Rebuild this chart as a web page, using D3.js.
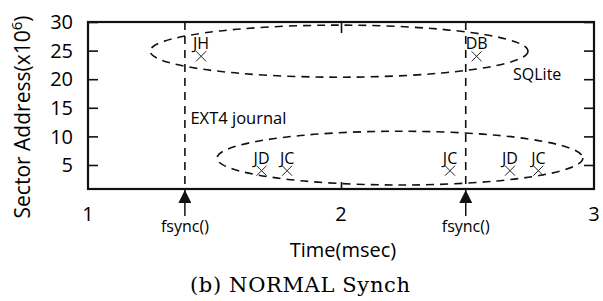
<!DOCTYPE html>
<html>
<head>
<meta charset="utf-8">
<script src="https://cdn.jsdelivr.net/npm/d3@7"></script>
<style>
  body { margin: 0; background: #fff; }
  text { font-family: "Open Sans", "Lato", sans-serif; fill: #000; }
</style>
</head>
<body>
<svg width="603" height="301"></svg>
<script>
// data
var xTicks = [1, 2, 3];
var yTicks = [5, 10, 15, 20, 25, 30];
var ioLabels = ["JH", "DB", "JD", "JC", "JC", "JD", "JC"];
var ioTime = [1.447, 2.536, 1.686, 1.787, 2.431, 2.668, 2.78];
var ioSector = [24, 24, 4, 4, 4, 4, 4];
var fsyncTime = [1.383, 2.493];
// groups: name, centre time, centre sector, half width (time), half height (sector)
var groupNames = ["SQLite", "EXT4 journal"];
var groupCx = [1.992, 2.233];
var groupCy = [24.9, 6.2];
var groupRx = [0.747, 0.723];
var groupRy = [4.55, 4.7];

var svg = d3.select("svg");
var margin = {left: 88, right: 9, top: 22, bottom: 112};
var W = 603, H = 301;

var x = d3.scaleLinear().domain([1, 3]).range([margin.left, W - margin.right]);
var y = d3.scaleLinear().domain([0.8, 30]).range([H - margin.bottom, margin.top]);

// ellipses
svg.append("g").selectAll("ellipse")
  .data(groupNames)
  .enter()
  .append("ellipse")
  .attr("cx", (d, i) => x(groupCx[i]))
  .attr("cy", (d, i) => y(groupCy[i]))
  .attr("rx", (d, i) => x(groupCx[i] + groupRx[i]) - x(groupCx[i]))
  .attr("ry", (d, i) => y(groupCy[i] - groupRy[i]) - y(groupCy[i]))
  .attr("fill", "none")
  .attr("stroke", "#111")
  .attr("stroke-width", 1.6)
  .attr("stroke-dasharray", "8,6");

// fsync dashed lines
svg.append("g").selectAll("line")
  .data(fsyncTime)
  .enter()
  .append("line")
  .attr("x1", d => x(d)).attr("x2", d => x(d))
  .attr("y1", y(30)).attr("y2", y(0.8))
  .attr("stroke", "#111")
  .attr("stroke-width", 1.6)
  .attr("stroke-dasharray", "8,6");

// axes: ticks inside, mirrored
svg.append("g").attr("transform", `translate(${margin.left},0)`)
  .call(d3.axisRight(y).tickValues(yTicks).tickSize(10).tickFormat(""));
svg.append("g").attr("transform", `translate(${W - margin.right},0)`)
  .call(d3.axisLeft(y).tickValues(yTicks).tickSize(10).tickFormat(""));
svg.append("g").attr("transform", `translate(0,${y(0.8)})`)
  .call(d3.axisTop(x).tickValues([2]).tickSize(7).tickFormat(""));
svg.append("g").attr("transform", `translate(0,${y(30)})`)
  .call(d3.axisBottom(x).tickValues([2]).tickSize(11).tickFormat(""));
svg.selectAll(".domain").remove();
svg.selectAll(".tick line").attr("stroke", "#111").attr("stroke-width", 1.6);

// tick labels
svg.append("g").selectAll("text")
  .data(yTicks)
  .enter()
  .append("text")
  .attr("x", 73)
  .attr("y", d => y(d))
  .attr("dy", "0.36em")
  .attr("text-anchor", "end")
  .style("font-size", "20px")
  .text(d => d);
svg.append("g").selectAll("text")
  .data(xTicks)
  .enter()
  .append("text")
  .attr("x", d => x(d))
  .attr("y", 221)
  .attr("text-anchor", "middle")
  .style("font-size", "20px")
  .text(d => d);

// frame
svg.append("rect")
  .attr("x", x(1)).attr("y", y(30))
  .attr("width", x(3) - x(1)).attr("height", y(0.8) - y(30))
  .attr("fill", "none").attr("stroke", "#111").attr("stroke-width", 2.2);

// markers
var pts = svg.append("g").selectAll("g")
  .data(ioLabels)
  .enter()
  .append("g")
  .attr("transform", (d, i) => `translate(${x(ioTime[i])},${y(ioSector[i])})`);
pts.append("path")
  .attr("d", "M-5,-5L5,5M-5,5L5,-5")
  .attr("stroke", "#222")
  .attr("stroke-width", 1);
pts.append("text")
  .attr("y", -7)
  .attr("text-anchor", "middle")
  .style("font-size", "16px")
  .text(d => d);

// group names
svg.append("text").attr("x", x(2.68)).attr("y", y(19.9))
  .style("font-size", "16px").text(groupNames[0]);
svg.append("text").attr("x", x(1.405)).attr("y", y(12.1))
  .style("font-size", "16.5px").text(groupNames[1]);

// fsync arrows
svg.append("defs").append("marker")
  .attr("id", "arrowhead")
  .attr("viewBox", "0 -5 10 10")
  .attr("refX", 10).attr("refY", 0)
  .attr("orient", "auto")
  .attr("markerUnits", "userSpaceOnUse")
  .attr("markerWidth", 13).attr("markerHeight", 13)
  .append("path")
  .attr("d", "M0,-5L10,0L0,5Z")
  .attr("fill", "#111");
var fs = svg.append("g").selectAll("g")
  .data(fsyncTime)
  .enter()
  .append("g")
  .attr("transform", d => `translate(${x(d)},0)`);
fs.append("line")
  .attr("y1", 216).attr("y2", y(0.8) + 1)
  .attr("stroke", "#111").attr("stroke-width", 1.5)
  .attr("marker-end", "url(#arrowhead)");
fs.append("text")
  .attr("y", 232)
  .attr("text-anchor", "middle")
  .style("font-size", "16px")
  .text("fsync()");

// axis titles
svg.append("text")
  .attr("x", 343).attr("y", 257)
  .attr("text-anchor", "middle")
  .style("font-size", "20px")
  .text("Time(msec)");
var yt = svg.append("text")
  .attr("transform", "translate(30,117) rotate(-90)")
  .attr("text-anchor", "middle")
  .style("font-size", "21px");
yt.append("tspan").text("Sector Address(x10");
yt.append("tspan").attr("dy", -8).style("font-size", "15px").text("6");
yt.append("tspan").attr("dy", 8).text(")");

// caption
svg.append("text")
  .attr("x", 190).attr("y", 292)
  .attr("textLength", 220)
  .attr("lengthAdjust", "spacing")
  .style("font-family", "'DejaVu Serif', 'Liberation Serif', serif")
  .style("font-size", "21px")
  .text("(b) NORMAL Synch");
</script>
</body>
</html>
